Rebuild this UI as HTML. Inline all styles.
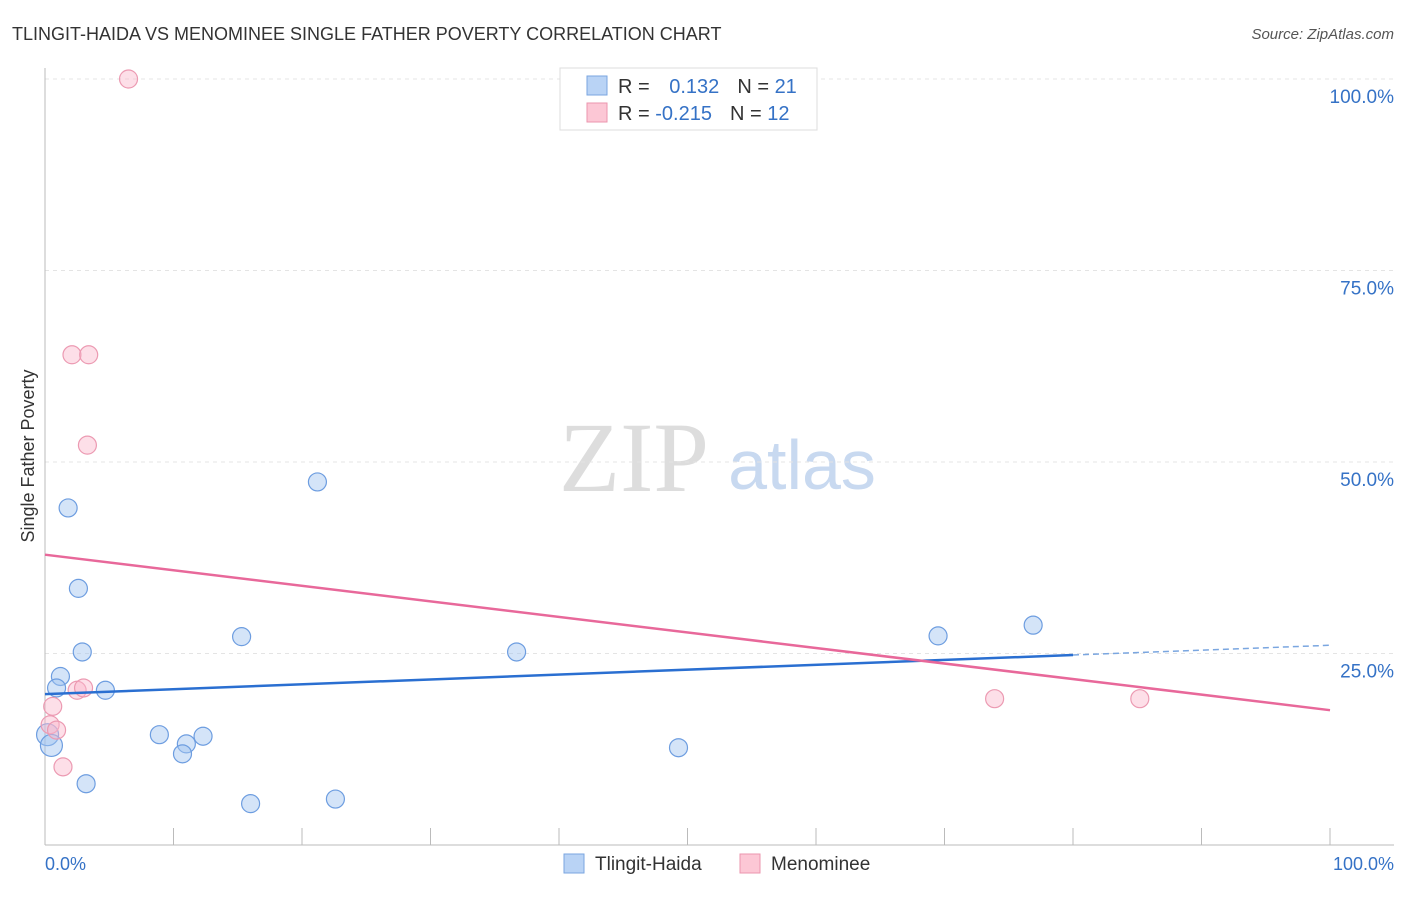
<!DOCTYPE html>
<html><head><meta charset="utf-8"><style>
body{margin:0;background:#fff;font-family:"Liberation Sans",sans-serif;}
</style></head><body>
<svg id="c" width="1406" height="892" xmlns="http://www.w3.org/2000/svg">
<text x="12" y="40" font-size="18" fill="#333">TLINGIT-HAIDA VS MENOMINEE SINGLE FATHER POVERTY CORRELATION CHART</text>
<text x="1394" y="39" font-size="15" fill="#555" text-anchor="end" font-style="italic">Source: ZipAtlas.com</text>
<text x="634" y="491" font-size="100" fill="#ddd" font-family="Liberation Serif" text-anchor="middle">ZIP</text>
<text x="802" y="489" font-size="70" fill="#c8d9f0" text-anchor="middle">atlas</text>
<text transform="translate(34,456) rotate(-90)" font-size="18" fill="#333" text-anchor="middle">Single Father Poverty</text>
<g id="grid"></g><g id="marks"></g>
<g>
<rect x="560" y="68" width="257" height="62" fill="#fff" stroke="#ddd"/>
<rect x="587" y="76" width="20" height="19" fill="#b9d3f5" stroke="#7aa6e0"/>
<rect x="587" y="103" width="20" height="19" fill="#fcc7d5" stroke="#eb95ae"/>
<text x="618" y="93" font-size="20" fill="#333">R = <tspan fill="#3572c6" dx="14">0.132</tspan><tspan dx="18" fill="#333">N = </tspan><tspan fill="#3572c6">21</tspan></text>
<text x="618" y="120" font-size="20" fill="#333">R = <tspan fill="#3572c6">-0.215</tspan><tspan dx="18" fill="#333">N = </tspan><tspan fill="#3572c6">12</tspan></text>
</g>
<g>
<rect x="564" y="854" width="20" height="19" fill="#b9d3f5" stroke="#7aa6e0"/>
<text x="595" y="870" font-size="19" fill="#333">Tlingit-Haida</text>
<rect x="740" y="854" width="20" height="19" fill="#fcc7d5" stroke="#eb95ae"/>
<text x="771" y="870" font-size="19" fill="#333">Menominee</text>
</g>
<text x="45" y="870" font-size="18" fill="#3572c6">0.0%</text>
<text x="1394" y="870" font-size="18" fill="#3572c6" text-anchor="end">100.0%</text>
</svg>
<script>
const yTicks=[25,50,75,100];
const yTickLabels=["25.0%","50.0%","75.0%","100.0%"];
const blueX=[1.8,2.6,2.9,1.2,0.9,4.7,15.3,21.2,36.7,69.5,76.9,8.9,11,10.7,12.3,49.3,3.2,16,22.6,0.2,0.5];
const blueY=[44,33.5,25.2,22,20.5,20.2,27.2,47.4,25.2,27.3,28.7,14.4,13.2,11.9,14.2,12.7,8,5.4,6,14.4,13];
const pinkX=[6.5,2.1,3.4,3.3,2.5,3,0.6,0.4,0.9,1.4,73.9,85.2];
const pinkY=[100,64,64,52.2,20.2,20.5,18.1,15.7,15,10.2,19.1,19.1];
const blueTrend=[19.7,24.8,80];
const pinkTrend=[37.9,17.6];
const sx=v=>45+v*12.85, sy=v=>845-v*7.66;
const NS="http://www.w3.org/2000/svg";
function mk(p,t,a){const e=document.createElementNS(NS,t);for(const k in a)e.setAttribute(k,a[k]);p.appendChild(e);return e;}
const g=document.getElementById('grid'), m=document.getElementById('marks');
yTicks.forEach((t,i)=>{
 const l=mk(g,'line',{x1:45,x2:1394,y1:sy(t),y2:sy(t),stroke:'#e4e4e4','stroke-dasharray':'4,4'});
 
 
 const tx=mk(g,'text',{x:1394,y:sy(t)+24,'font-size':19,fill:'#3572c6','text-anchor':'end'});
 tx.textContent=yTickLabels[i];
 
 
});
const ax=mk(g,'line',{x1:45,x2:45,y1:68,y2:845,stroke:'#bbb'});


const bx=mk(g,'line',{x1:45,x2:1394,y1:845,y2:845,stroke:'#bbb'});


for(let i=0;i<=10;i++){const t=mk(g,'line',{x1:sx(i*10),x2:sx(i*10),y1:828,y2:845,stroke:'#bbb'});
 
 }
blueX.forEach((x,i)=>{const big=i>=19;const c=mk(m,'circle',{cx:sx(x),cy:sy(blueY[i]),r:big?11:9,fill:'rgba(160,196,240,0.45)',stroke:'#6d9de0','stroke-width':1.2});
 
 });
pinkX.forEach((x,i)=>{const c=mk(m,'circle',{cx:sx(x),cy:sy(pinkY[i]),r:9,fill:'rgba(250,185,205,0.45)',stroke:'#ec9ab2','stroke-width':1.2});
 
 });
const bs=(blueTrend[1]-blueTrend[0])/blueTrend[2];
const b1=mk(m,'line',{x1:sx(0),y1:sy(blueTrend[0]),x2:sx(blueTrend[2]),y2:sy(blueTrend[1]),stroke:'#2a6fd1','stroke-width':2.5});


const b2=mk(m,'line',{x1:sx(blueTrend[2]),y1:sy(blueTrend[1]),x2:sx(100),y2:sy(blueTrend[0]+bs*100),stroke:'#7aa6e0','stroke-width':1.5,'stroke-dasharray':'6,4'});


const p1=mk(m,'line',{x1:sx(0),y1:sy(pinkTrend[0]),x2:sx(100),y2:sy(pinkTrend[1]),stroke:'#e8689a','stroke-width':2.5});


</script>
</body></html>
